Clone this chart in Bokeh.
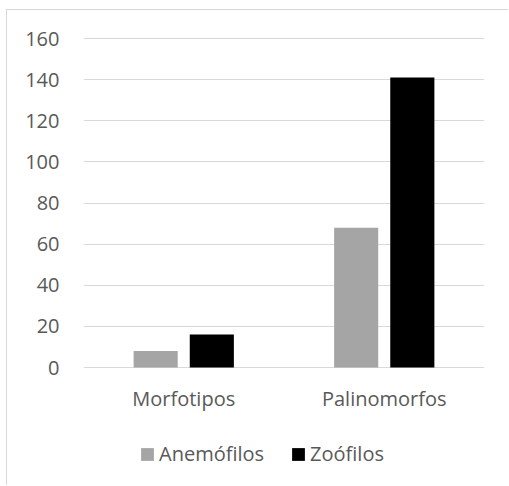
from bokeh.plotting import figure
from bokeh.models import ColumnDataSource, FactorRange, Legend, LegendItem, FixedTicker, Spacer
from bokeh.layouts import column, row
from bokeh.transform import dodge
from bokeh.core.properties import value
from bokeh.embed import file_html
from bokeh.resources import INLINE

categories = ["Morfotipos", "Palinomorfos"]
anemofilos = [8, 68]
zoofilos = [16, 141]
series_names = ["Anemófilos", "Zoófilos"]
y_ticks = [0, 20, 40, 60, 80, 100, 120, 140, 160]

FONT = "Open Sans"
TXT = "#595959"

# pixel layout of the plot frame (inside the figure)
W, H = 502, 476
TOP, BOTTOM = 27, 6
ZERO_PX = 357          # distance of value 0 from figure top (content box)
PPU = 329 / 160.0      # pixels per unit
frame_h = H - TOP - BOTTOM
y_end = (ZERO_PX - TOP) / PPU
y_start = -(TOP + frame_h - ZERO_PX) / PPU

source = ColumnDataSource(dict(cat=categories, anem=anemofilos, zoo=zoofilos))

p = figure(width=W, height=H, x_range=FactorRange(*categories), y_range=(y_start, y_end),
           output_backend="svg", toolbar_location=None,
           min_border_left=76, min_border_right=25, min_border_top=TOP, min_border_bottom=BOTTOM)
p.styles = {"border-left": "1px solid #d9d9d9", "border-top": "1px solid #d9d9d9"}

r1 = p.vbar(x=dodge("cat", -0.14, range=p.x_range), top="anem", width=0.22, source=source,
            fill_color="#a5a5a5", line_color=None)
r2 = p.vbar(x=dodge("cat", 0.14, range=p.x_range), top="zoo", width=0.22, source=source,
            fill_color="#000000", line_color=None)

# category labels (x axis)
p.text(x=categories, y=[-(398 - 367) / PPU] * len(categories), text=categories,
       text_font=value(FONT), text_font_size="20px", text_color=TXT,
       text_align="center", text_baseline="middle")

p.outline_line_color = None
p.xgrid.grid_line_color = None
p.xaxis.visible = False
p.ygrid.grid_line_color = "#d9d9d9"
p.ygrid.grid_line_width = 1
p.yaxis.ticker = FixedTicker(ticks=y_ticks)

ax = p.yaxis[0]
ax.axis_line_color = None
ax.major_tick_line_color = None
ax.minor_tick_line_color = None
ax.major_tick_out = 0
ax.major_tick_in = 0
ax.major_label_text_font = FONT
ax.major_label_text_font_size = "20px"
ax.major_label_text_color = TXT
ax.major_label_standoff = 24

legend = Legend(items=[LegendItem(label=series_names[0], renderers=[r1]),
                       LegendItem(label=series_names[1], renderers=[r2])],
                orientation="horizontal", location=(56, 13),
                padding=0, margin=0, spacing=26, label_standoff=4,
                glyph_width=16, glyph_height=16,
                border_line_color=None, background_fill_alpha=0,
                label_text_font=FONT, label_text_font_size="20px", label_text_color=TXT)
p.add_layout(legend, "center")

layout = column(Spacer(height=9, width=509), row(Spacer(width=6, height=H), p))
open("out.html", "w").write(file_html(layout, INLINE))
